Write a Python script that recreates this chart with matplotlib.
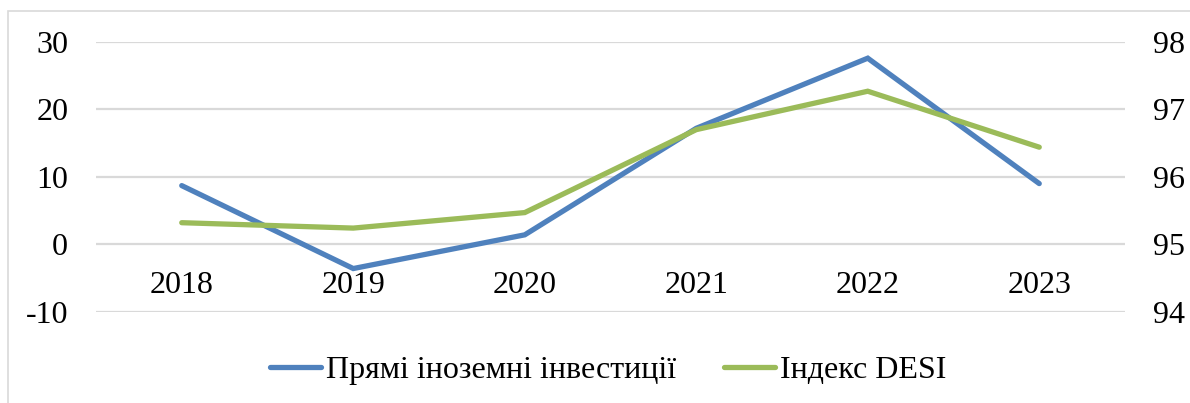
import matplotlib.pyplot as plt
from matplotlib.patches import Rectangle

years = ["2018", "2019", "2020", "2021", "2022", "2023"]
fdi = [8.7, -3.6, 1.4, 17.2, 27.6, 9.0]
desi = [95.32, 95.24, 95.47, 96.70, 97.27, 96.44]

left_ticks = [-10, 0, 10, 20, 30]
right_ticks = [94, 95, 96, 97, 98]

blue = "#4F81BD"
green = "#9BBB59"
grid = "#D9D9D9"

plt.rcParams['font.family'] = ['Liberation Serif', 'DejaVu Serif']
plt.rcParams['font.size'] = 23
plt.rcParams['axes.unicode_minus'] = False

W, H = 1190, 403
fig = plt.figure(figsize=(W / 100, H / 100), dpi=100)
ax1 = fig.add_axes([96 / W, 1 - 311.7 / H, (1125 - 96) / W, (311.7 - 42) / H])
ax2 = ax1.twinx()

x = list(range(len(years)))
l1, = ax1.plot(x, fdi, color=blue, lw=3.8, solid_capstyle='round', solid_joinstyle='miter',
               label="Прямі іноземні інвестиції", zorder=3)
l2, = ax2.plot(x, desi, color=green, lw=3.8, solid_capstyle='round', solid_joinstyle='miter',
               label="Індекс DESI", zorder=3)

ax1.set_xlim(-0.5, len(years) - 0.5)
ax1.set_ylim(left_ticks[0], left_ticks[-1])
ax2.set_ylim(right_ticks[0], right_ticks[-1])
ax1.set_yticks(left_ticks)
ax2.set_yticks(right_ticks)
ax1.set_xticks(x)
ax1.set_xticklabels(years)

ax1.grid(axis='y', color=grid, lw=1.6)
ax1.set_axisbelow(True)
for ax in (ax1, ax2):
    for s in ax.spines.values():
        s.set_visible(False)
ax1.spines['bottom'].set_position(('data', 0))
ax1.tick_params(axis='x', length=0, pad=19)
ax1.tick_params(axis='y', length=0, pad=20)
ax2.tick_params(axis='y', length=0, pad=20)

fig.legend(handles=[l1, l2], loc='center', bbox_to_anchor=(0.5 + 13 / W, 1 - 370 / H),
           ncol=2, frameon=False, handlelength=1.6, handletextpad=0.15,
           columnspacing=1.5, fontsize=23)

fig.patches.append(Rectangle((8 / W, -0.5), 2, 1.5 - 11 / H, transform=fig.transFigure,
                             fill=False, edgecolor=grid, lw=1.2))

fig.savefig("out.png", dpi=100)
